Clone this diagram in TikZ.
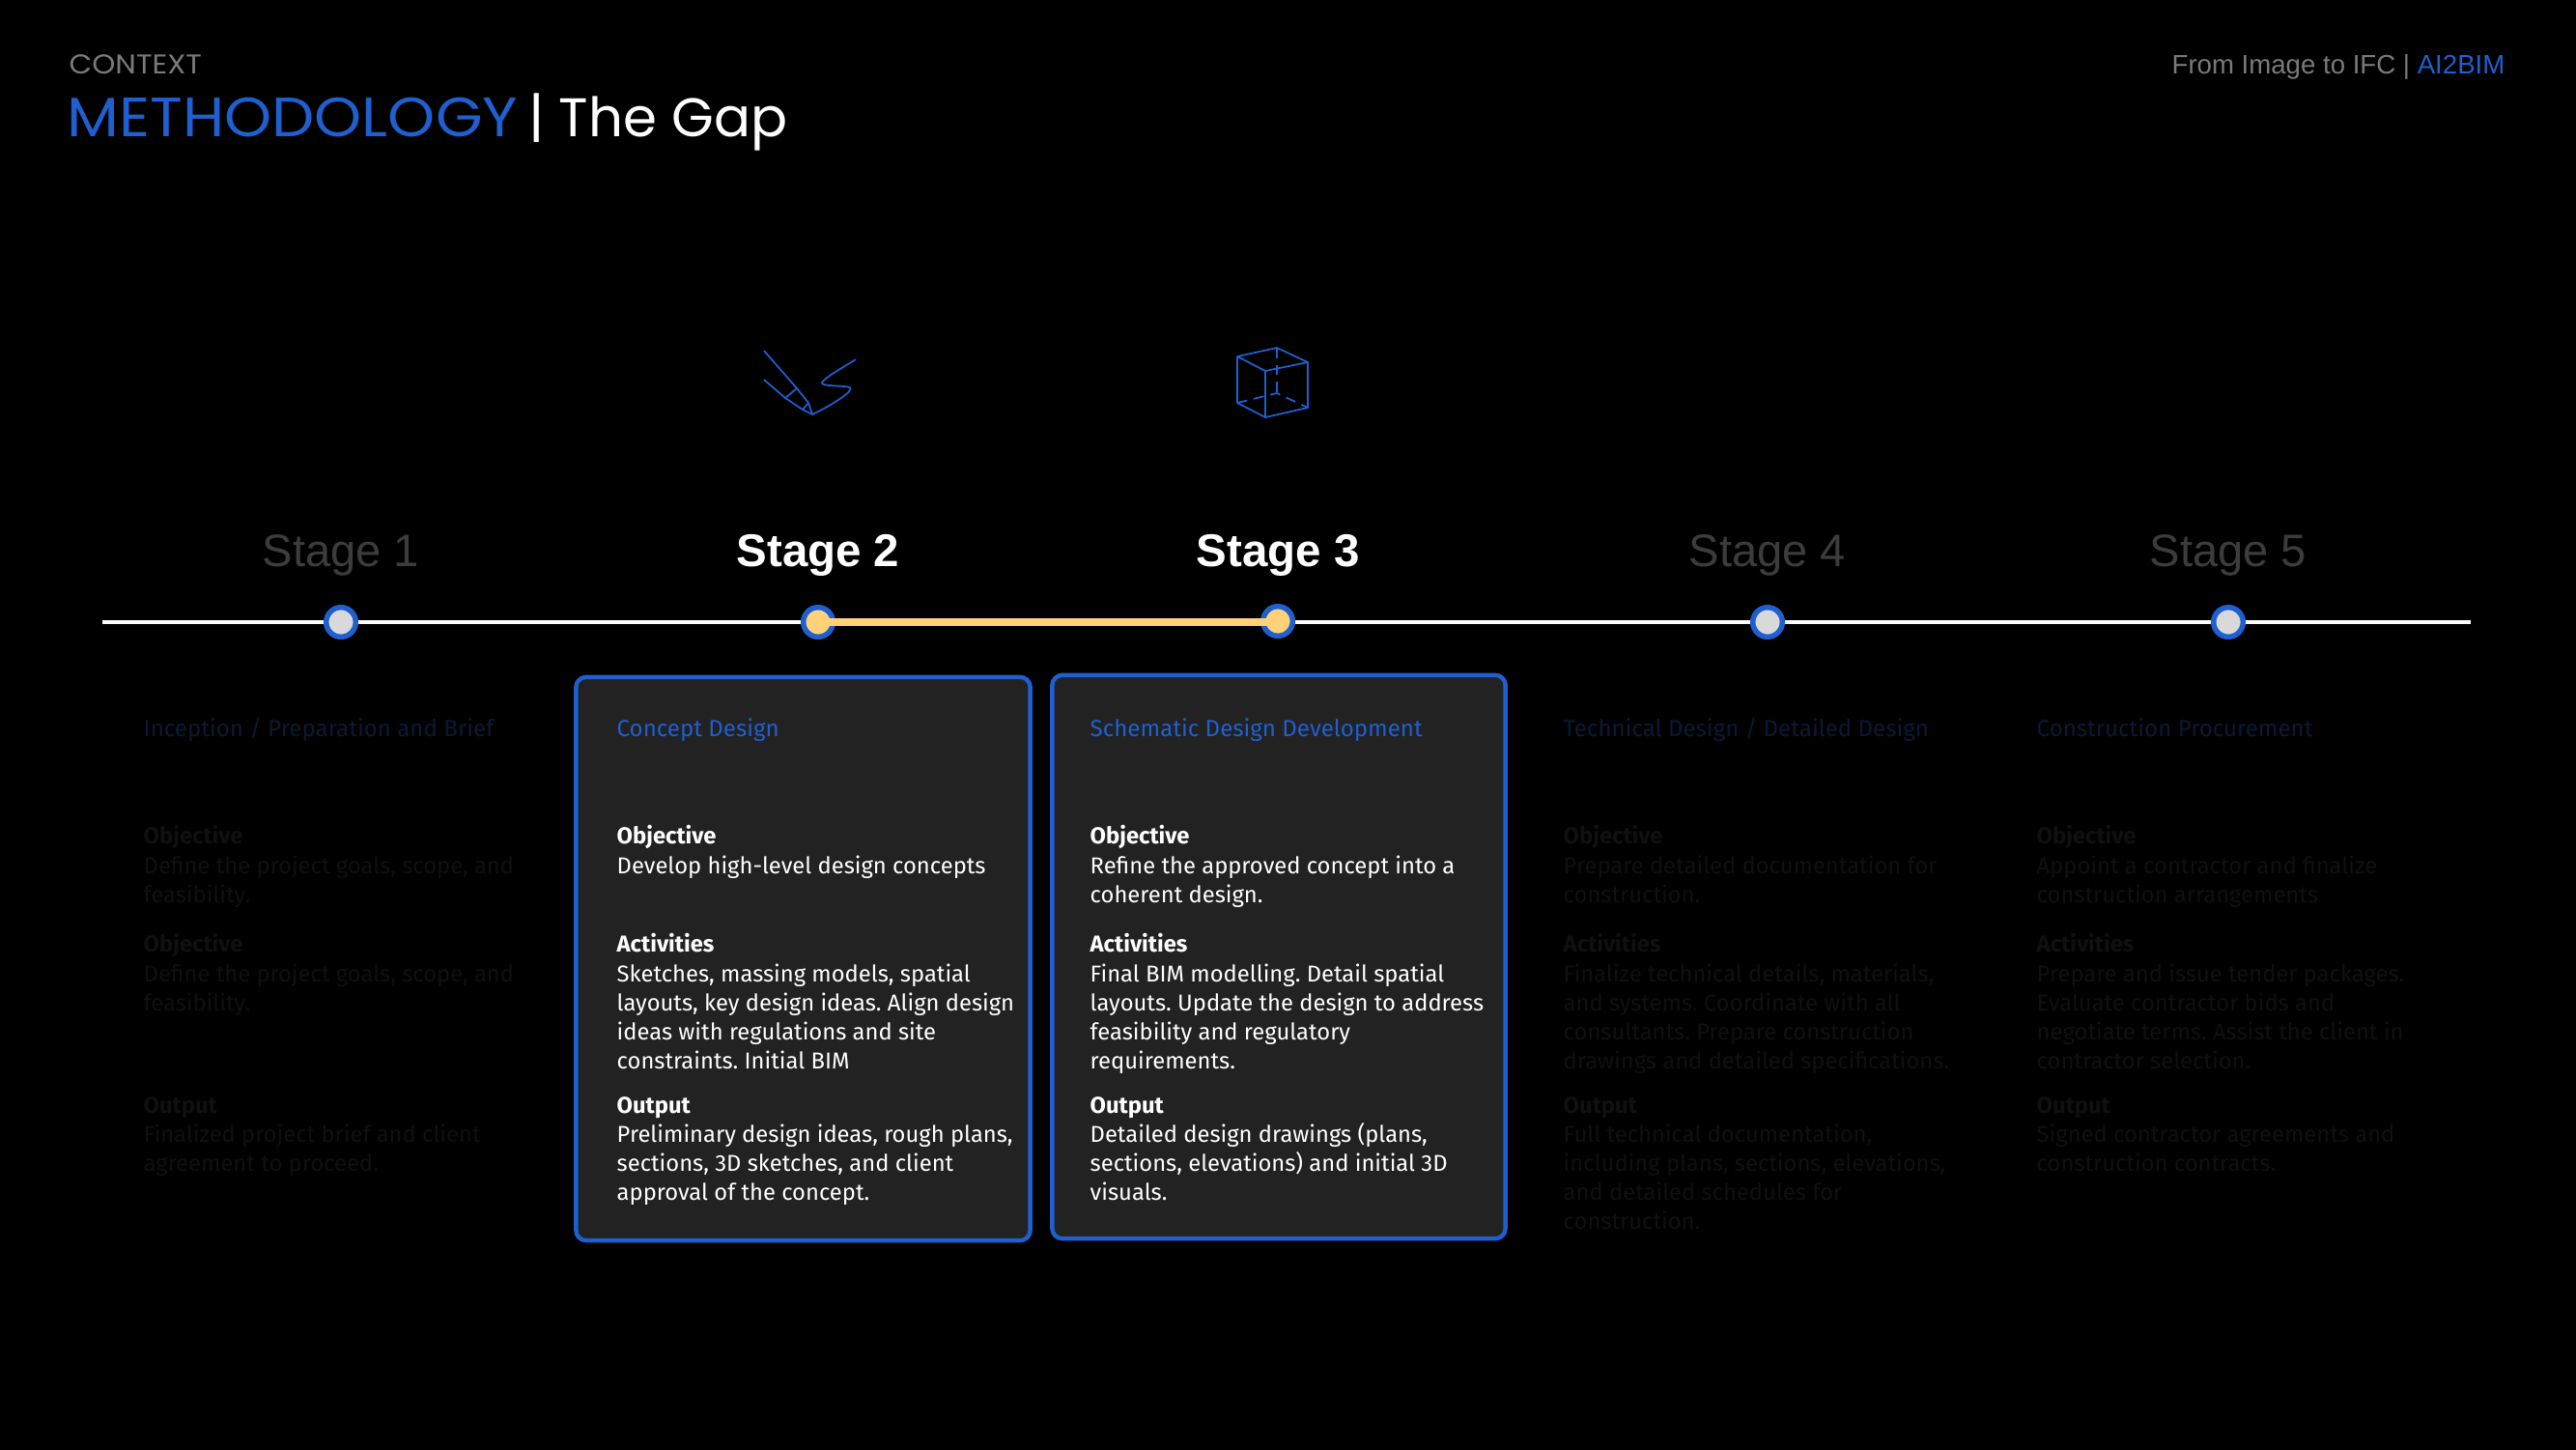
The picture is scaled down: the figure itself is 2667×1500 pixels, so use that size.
\documentclass[tikz,border=0pt]{standalone}
\usepackage{fontspec}
\setmainfont{Fira Sans}
\newfontfamily\arialfont{Liberation Sans}
\newfontfamily\titlefont[FakeStretch=1.09]{Poppins}
\newfontfamily\gapfont{Poppins}
\usepackage{xcolor}
\usetikzlibrary{positioning}
\definecolor{slideBlue}{HTML}{1F5FCF}
\definecolor{railGold}{HTML}{FFD27A}
\definecolor{dotGrey}{HTML}{D9D9D9}
\definecolor{cardGrey}{HTML}{222222}
\definecolor{dimStage}{HTML}{3C3C3C}
\definecolor{dimHead}{HTML}{0A1A33}
\definecolor{dimBody}{HTML}{101010}
\definecolor{headGrey}{HTML}{7A7A7A}
\newcommand{\hd}[1]{\textbf{#1}\\}

\begin{document}
\frenchspacing
\begin{tikzpicture}[
    x=0.01cm, y=-0.01cm,
    card/.style={rectangle, draw=slideBlue, fill=cardGrey, line width=1.25pt,
                 rounded corners=3pt, inner sep=0pt},
    stagelabel/.style={font=\arialfont\fontsize{13.4}{15}\selectfont, inner sep=0pt},
    stagedot/.style={circle, draw=slideBlue, line width=1.55pt, inner sep=0pt,
                     minimum size=8.7pt},
    head/.style={anchor=base west, inner sep=0pt, font=\fontsize{6.85}{8.54}\selectfont},
    txt/.style={anchor=north west, inner sep=0pt, align=left,
                font=\fontsize{6.76}{8.54}\selectfont},
    on/.style={txt, text=white},
    off/.style={txt, text=dimBody},
    icon/.style={draw=slideBlue, line width=0.5pt, line join=round},
]
    \useasboundingbox (0,0) rectangle (2667,1500);
    \fill[black] (-10,-10) rectangle (2677,1510);

    % header
    \node[anchor=base west, inner sep=0pt, text=headGrey,
          font=\titlefont\fontsize{8}{10}\selectfont] (context) at (71,77) {CONTEXT};
    \node[anchor=base west, inner sep=0pt, text=slideBlue,
          font=\titlefont\fontsize{16.3}{20}\selectfont] (title) at (69,142) {METHODOLOGY};
    \node[inner sep=0pt, text=white, font=\gapfont\fontsize{16}{20}\selectfont,
          right=0.1cm of title.base east, anchor=base west] (gap) {| The Gap};
    \node[anchor=base east, inner sep=0pt, text=headGrey,
          font=\arialfont\fontsize{7.85}{10}\selectfont] (source) at (2594,77)
         {From Image to IFC | \textcolor{slideBlue}{AI2BIM}};

    % timeline
    \coordinate (railstart) at (106,644);
    \coordinate (railend) at (2558,644);
    \draw[white, line width=1.4pt] (railstart) -- (railend);
    \node[stagedot, fill=dotGrey] (d1) at (353,644) {};
    \node[stagedot, fill=railGold] (d2) at (847,644) {};
    \node[stagedot, fill=railGold] (d3) at (1323,643) {};
    \node[stagedot, fill=dotGrey] (d4) at (1830,644) {};
    \node[stagedot, fill=dotGrey] (d5) at (2307,644) {};
    \draw[railGold, line width=2.3pt] (d2.center) -- (d2.center -| d3.center);

    \node[stagelabel, text=dimStage, above=0.285cm of d1] (st1) {Stage 1};
    \node[stagelabel, text=white, font=\arialfont\bfseries\fontsize{13.5}{15}\selectfont,
          above=0.285cm of d2] (st2) {Stage 2};
    \node[stagelabel, text=white, font=\arialfont\bfseries\fontsize{13.5}{15}\selectfont,
          above=0.275cm of d3] (st3) {Stage 3};
    \node[stagelabel, text=dimStage, above=0.285cm of d4] (st4) {Stage 4};
    \node[stagelabel, text=dimStage, above=0.285cm of d5] (st5) {Stage 5};

    % icons
    \draw[icon] (791,363) -- (825,402) -- (837,417) -- (841,429) -- (831,424)
        -- (813,412) -- (791,393);
    \draw[icon] (813,412) -- (825,402);
    \draw[icon] (831,424) -- (837,417);
    \draw[icon] (841,429) .. controls (858,421) and (885,405) .. (880,401)
        .. controls (875,399) and (848,400) .. (851,396)
        .. controls (855,390) and (872,381) .. (886,372);
    \draw[icon] (1281,369) -- (1322,360) -- (1354,375) -- (1310,384) -- cycle;
    \draw[icon] (1281,369) -- (1281,417) -- (1310,432) -- (1354,422) -- (1354,375);
    \draw[icon] (1310,384) -- (1310,432);
    \draw[icon, densely dashed] (1322,360) -- (1322,407);
    \draw[icon, densely dashed] (1281,417) -- (1322,407) -- (1354,422);

    % cards
    \node[card, minimum width=4.70cm, minimum height=5.83cm] (c2) at (831.5,992.5) {};
    \node[card, minimum width=4.69cm, minimum height=5.83cm] (c3) at (1324,990.5) {};

    % stage 1
    \node[head, text=dimHead] (h1) at (148,762) {Inception / Preparation and Brief};
    \node[off] (a1) at (148,854) {\hd{Objective}Define the project goals, scope, and\\feasibility.};
    \node[off] (b1) at (148,966) {\hd{Objective}Define the project goals, scope, and\\feasibility.};
    \node[off] (e1) at (148,1135) {\hd{Output}Finalized project brief and client\\agreement to proceed.};

    % stage 2
    \node[head, text=slideBlue] (h2) at (638,762) {Concept Design};
    \node[on] (a2) at (638,854) {\hd{Objective}Develop high-level design concepts};
    \node[on] (b2) at (638,966) {\hd{Activities}Sketches, massing models, spatial\\layouts, key design ideas. Align design\\ideas with regulations and site\\constraints. Initial BIM};
    \node[on] (e2) at (638,1135) {\hd{Output}Preliminary design ideas, rough plans,\\sections, 3D sketches, and client\\approval of the concept.};

    % stage 3
    \node[head, text=slideBlue] (h3) at (1128,762) {Schematic Design Development};
    \node[on] (a3) at (1128,854) {\hd{Objective}Refine the approved concept into a\\coherent design.};
    \node[on] (b3) at (1128,966) {\hd{Activities}Final BIM modelling. Detail spatial\\layouts. Update the design to address\\feasibility and regulatory\\requirements.};
    \node[on] (e3) at (1128,1135) {\hd{Output}Detailed design drawings (plans,\\sections, elevations) and initial 3D\\visuals.};

    % stage 4
    \node[head, text=dimHead] (h4) at (1618,762) {Technical Design / Detailed Design};
    \node[off] (a4) at (1618,854) {\hd{Objective}Prepare detailed documentation for\\construction.};
    \node[off] (b4) at (1618,966) {\hd{Activities}Finalize technical details, materials,\\and systems. Coordinate with all\\consultants. Prepare construction\\drawings and detailed specifications.};
    \node[off] (e4) at (1618,1135) {\hd{Output}Full technical documentation,\\including plans, sections, elevations,\\and detailed schedules for\\construction.};

    % stage 5
    \node[head, text=dimHead] (h5) at (2108,762) {Construction Procurement};
    \node[off] (a5) at (2108,854) {\hd{Objective}Appoint a contractor and finalize\\construction arrangements};
    \node[off] (b5) at (2108,966) {\hd{Activities}Prepare and issue tender packages.\\Evaluate contractor bids and\\negotiate terms. Assist the client in\\contractor selection.};
    \node[off] (e5) at (2108,1135) {\hd{Output}Signed contractor agreements and\\construction contracts.};
\end{tikzpicture}
\end{document}
